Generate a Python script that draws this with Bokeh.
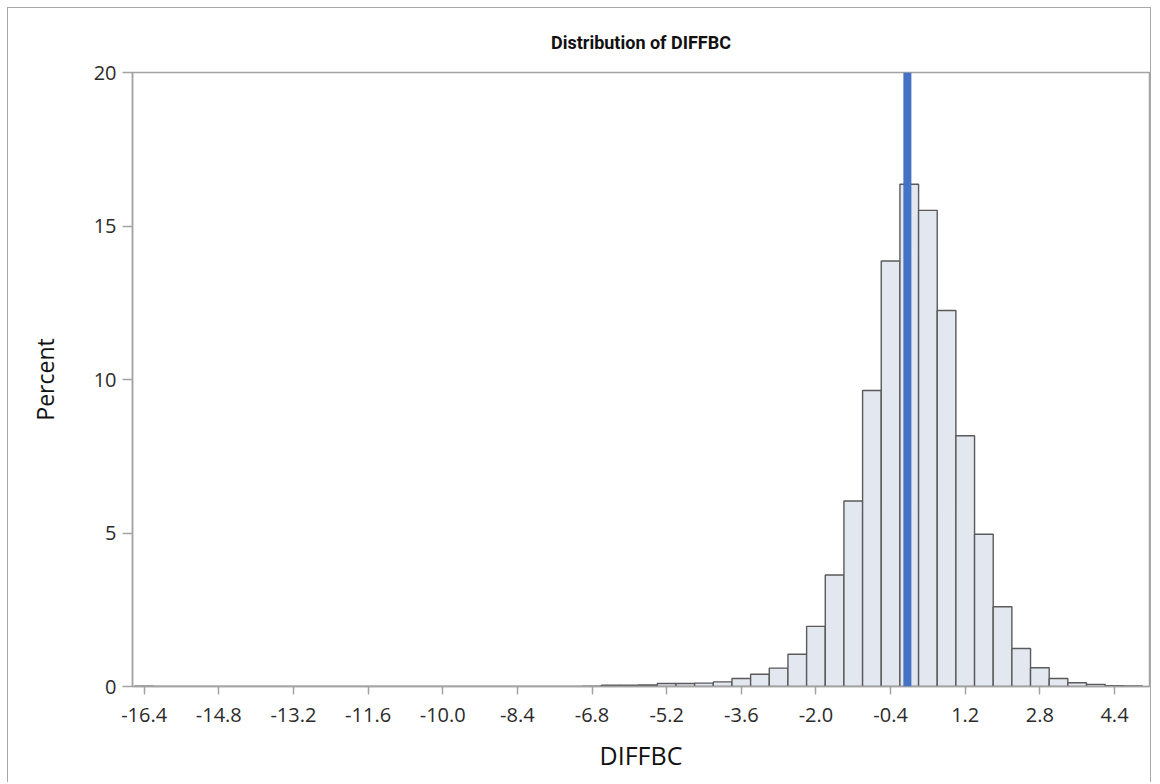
from bokeh.plotting import figure
from bokeh.models import Range1d, FixedTicker, Span
from bokeh.embed import file_html
from bokeh.resources import INLINE

# ---- data ----
bin_width = 0.4
bin_centers = [-16.4, -16.0, -15.6, -15.2, -14.8, -14.4, -14.0, -13.6, -13.2, -12.8,
               -12.4, -12.0, -11.6, -11.2, -10.8, -10.4, -10.0, -9.6, -9.2, -8.8,
               -8.4, -8.0, -7.6, -7.2, -6.8, -6.4, -6.0, -5.6, -5.2, -4.8,
               -4.4, -4.0, -3.6, -3.2, -2.8, -2.4, -2.0, -1.6, -1.2, -0.8,
               -0.4, 0.0, 0.4, 0.8, 1.2, 1.6, 2.0, 2.4, 2.8, 3.2,
               3.6, 4.0, 4.4, 4.8]
percent = [0.01, 0.0, 0.0, 0.0, 0.0, 0.0, 0.0, 0.0, 0.0, 0.0,
           0.0, 0.0, 0.0, 0.0, 0.0, 0.0, 0.0, 0.0, 0.0, 0.0,
           0.0, 0.0, 0.0, 0.0, 0.01, 0.04, 0.04, 0.05, 0.10, 0.10,
           0.11, 0.15, 0.26, 0.40, 0.60, 1.05, 1.96, 3.63, 6.04, 9.64,
           13.86, 16.36, 15.51, 12.25, 8.17, 4.96, 2.60, 1.24, 0.61, 0.26,
           0.12, 0.07, 0.03, 0.02]
mean_value = -0.04
x_ticks = [-16.4, -14.8, -13.2, -11.6, -10.0, -8.4, -6.8, -5.2, -3.6, -2.0, -0.4, 1.2, 2.8, 4.4]
x_tick_labels = ["-16.4", "-14.8", "-13.2", "-11.6", "-10.0", "-8.4", "-6.8", "-5.2",
                 "-3.6", "-2.0", "-0.4", "1.2", "2.8", "4.4"]
y_ticks = [0, 5, 10, 15, 20]

FONT = "Open Sans"
TITLE_FONT = "Roboto"
AXIS_GRAY = "#a3a3a3"
TEXT = "#2b2b2b"

p = figure(width=1144, height=775, output_backend="svg", toolbar_location=None,
           x_range=Range1d(-16.65, 5.15), y_range=Range1d(0, 20),
           min_border_left=124, min_border_right=3, min_border_top=64, min_border_bottom=97,
           title="Distribution of DIFFBC")
p.styles = {"margin-left": "7px", "margin-top": "7px",
            "border-left": "1px solid #a8a8a8", "border-top": "1px solid #a8a8a8",
            "border-right": "1px solid #a8a8a8"}

p.title.align = "center"
p.title.text_font = TITLE_FONT
p.title.text_font_size = "18px"
p.title.text_font_style = "bold"
p.title.text_color = "#111111"
p.title.standoff = 39

lefts = [c - bin_width / 2 for c in bin_centers]
rights = [c + bin_width / 2 for c in bin_centers]
p.quad(left=lefts, right=rights, bottom=0, top=percent,
       fill_color="#e3e7f0", line_color="#5a5a5a", line_width=1.4)

p.add_layout(Span(location=mean_value, dimension="height",
                  line_color="#4472c4", line_width=8))

p.xgrid.grid_line_color = None
p.ygrid.grid_line_color = None
p.outline_line_color = AXIS_GRAY
p.outline_line_width = 1.5
p.background_fill_color = "white"

p.xaxis.ticker = FixedTicker(ticks=x_ticks)
p.xaxis.major_label_overrides = dict(zip(x_ticks, x_tick_labels))
p.yaxis.ticker = FixedTicker(ticks=y_ticks)

p.xaxis.axis_label = "DIFFBC"
p.yaxis.axis_label = "Percent"

for ax in (p.xaxis[0], p.yaxis[0]):
    ax.axis_line_color = AXIS_GRAY
    ax.axis_line_width = 1.5
    ax.major_tick_line_color = AXIS_GRAY
    ax.major_tick_line_width = 1.5
    ax.major_tick_in = 0
    ax.minor_tick_line_color = None
    ax.major_label_text_font = FONT
    ax.major_label_text_font_size = "20px"
    ax.major_label_text_color = TEXT
    ax.axis_label_text_font = FONT
    ax.axis_label_text_font_size = "23px"
    ax.axis_label_text_font_style = "normal"
    ax.axis_label_text_color = "#111111"

p.xaxis.axis_label_text_font_size = "25px"
p.xaxis.major_tick_out = 8
p.xaxis.major_label_standoff = 13
p.xaxis.axis_label_standoff = 13
p.yaxis.major_tick_out = 10
p.yaxis.major_label_standoff = 6
p.yaxis.axis_label_standoff = 30

open("out.html", "w").write(file_html(p, INLINE))
